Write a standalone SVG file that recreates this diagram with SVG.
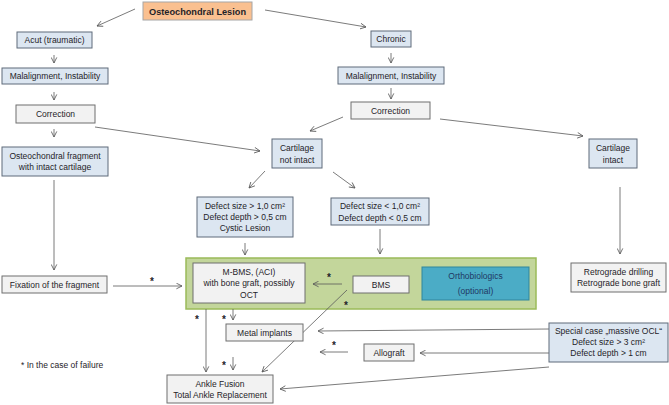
<svg xmlns="http://www.w3.org/2000/svg" width="669" height="405" viewBox="0 0 669 405">
<defs>
<marker id="ah" viewBox="0 0 10 10" refX="9" refY="5" markerWidth="7" markerHeight="7" orient="auto" markerUnits="userSpaceOnUse">
<path d="M1,1 L9,5 L1,9" fill="none" stroke="#595959" stroke-width="1.2"/>
</marker>
<style>
text{font-family:"Liberation Sans",Arial,sans-serif;font-size:8.5px;fill:#1F2328;text-anchor:middle}
.b{fill:#DCE6F1;stroke:#5F6B7A;stroke-width:1}
.g{fill:#F2F2F2;stroke:#6F6F6F;stroke-width:1}
.c line{stroke:#595959;stroke-width:0.8;fill:none}
.a{marker-end:url(#ah)}
.s{font-size:10px;font-weight:bold}
</style>
</defs>
<rect width="669" height="405" fill="#FFFFFF"/>
<g id="green-panel"><rect x="186" y="258" width="350" height="51" fill="#C3D69B" stroke="#9BBB59" stroke-width="1.5"/></g>
<g class="c" id="connectors">
<line class="a" x1="135" y1="9" x2="97" y2="26"/>
<line class="a" x1="265" y1="10" x2="366" y2="27"/>
<line class="a" x1="54" y1="55" x2="54" y2="63"/>
<line class="a" x1="54" y1="92" x2="54" y2="100"/>
<line class="a" x1="54" y1="129" x2="54" y2="137"/>
<line class="a" x1="54" y1="180" x2="54" y2="270"/>
<line class="a" x1="95" y1="127" x2="260" y2="151"/>
<line class="a" x1="391" y1="53" x2="391" y2="63"/>
<line class="a" x1="391" y1="88" x2="391" y2="99"/>
<line class="a" x1="343" y1="117" x2="310" y2="131"/>
<line class="a" x1="440" y1="119" x2="583" y2="136"/>
<line class="a" x1="265" y1="171" x2="249" y2="188"/>
<line class="a" x1="333" y1="172" x2="355" y2="188"/>
<line class="a" x1="245" y1="243" x2="245" y2="255"/>
<line class="a" x1="380" y1="229" x2="380" y2="254"/>
<line class="a" x1="620" y1="187" x2="620" y2="254"/>
<line class="a" x1="113" y1="286" x2="182" y2="286"/>
<line class="a" x1="342" y1="284" x2="313" y2="284"/>
<line class="a" x1="347" y1="290" x2="262" y2="372"/>
<line class="a" x1="206" y1="309" x2="206" y2="372"/>
<line class="a" x1="233" y1="309" x2="233" y2="320"/>
<line class="a" x1="233" y1="357" x2="233" y2="370"/>
<line class="a" x1="549" y1="329" x2="318" y2="331"/>
<line class="a" x1="549" y1="353" x2="420" y2="353"/>
<line class="a" x1="348" y1="352" x2="320" y2="352"/>
<line class="a" x1="549" y1="367" x2="280" y2="389"/>
</g>
<g id="stars">
<text class="s" x="152" y="285">*</text>
<text class="s" x="329" y="281">*</text>
<text class="s" x="346" y="309">*</text>
<text class="s" x="197" y="323">*</text>
<text class="s" x="224" y="323">*</text>
<text class="s" x="224" y="369">*</text>
<text class="s" x="334" y="349">*</text>
</g>
<g id="lesion"><rect x="143" y="2" width="109" height="18" fill="#FAC090" stroke="#A6A6A6" stroke-width="1"/><text x="197.5" y="14.5" style="font-weight:bold;font-size:9.2px">Osteochondral Lesion</text></g>
<g id="acut"><rect class="b" x="17" y="32" width="75" height="16"/><text x="54.5" y="43">Acut (traumatic)</text></g>
<g id="malalign1"><rect class="b" x="2" y="68" width="106" height="16"/><text x="55" y="79">Malalignment, Instability</text></g>
<g id="correction1"><rect class="g" x="16" y="105" width="79" height="18"/><text x="55.5" y="117">Correction</text></g>
<g id="fragment"><rect class="b" x="2" y="147" width="106" height="29"/><text x="55" y="158.5">Osteochondral fragment</text><text x="55" y="170">with intact cartilage</text></g>
<g id="fixation"><rect class="g" x="2" y="276" width="105" height="17"/><text x="54.5" y="287.5">Fixation of the fragment</text></g>
<g id="chronic"><rect class="b" x="371" y="31" width="40" height="16"/><text x="391" y="42">Chronic</text></g>
<g id="malalign2"><rect class="b" x="338" y="67" width="106" height="17"/><text x="391" y="78.5">Malalignment, Instability</text></g>
<g id="correction2"><rect class="g" x="351" y="102" width="79" height="17"/><text x="390.5" y="113.5">Correction</text></g>
<g id="cart-not-intact"><rect class="b" x="272" y="139" width="50" height="29"/><text x="297" y="151">Cartilage</text><text x="297" y="163">not intact</text></g>
<g id="cart-intact"><rect class="b" x="589" y="139" width="48" height="29"/><text x="613" y="151">Cartilage</text><text x="613" y="163">intact</text></g>
<g id="defect-large"><rect class="b" x="197" y="197" width="96" height="40"/><text x="245" y="209">Defect size &gt; 1,0 cm²</text><text x="245" y="220">Defect depth &gt; 0,5 cm</text><text x="245" y="231">Cystic Lesion</text></g>
<g id="defect-small"><rect class="b" x="331" y="198" width="98" height="27"/><text x="380" y="209">Defect size &lt; 1,0 cm²</text><text x="380" y="221">Defect depth &lt; 0,5 cm</text></g>
<g id="mbms"><rect class="g" x="193" y="263" width="112" height="40"/><text x="249" y="275">M-BMS, (ACI)</text><text x="249" y="286">with bone graft, possibly</text><text x="249" y="298">OCT</text></g>
<g id="bms"><rect class="g" x="353" y="276" width="56" height="17"/><text x="381" y="288">BMS</text></g>
<g id="orthobiologics"><rect x="422" y="267" width="107" height="33" fill="#4BACC6" stroke="#31859C" stroke-width="1"/><text x="475.5" y="279" style="fill:#1F3864">Orthobiologics</text><text x="475.5" y="294" style="fill:#1F3864">(optional)</text></g>
<g id="retrograde"><rect class="g" x="571" y="263" width="95" height="29"/><text x="618.5" y="275">Retrograde drilling</text><text x="618.5" y="286">Retrograde bone graft</text></g>
<g id="metal"><rect class="g" x="226" y="324" width="77" height="17"/><text x="264.5" y="336">Metal implants</text></g>
<g id="allograft"><rect class="g" x="364" y="344" width="50" height="17"/><text x="389" y="356">Allograft</text></g>
<g id="special"><rect class="b" x="549" y="323" width="119" height="39"/><text x="608.5" y="334">Special case „massive OCL“</text><text x="608.5" y="345">Defect size &gt; 3 cm²</text><text x="608.5" y="356">Defect depth &gt; 1 cm</text></g>
<g id="ankle"><rect class="g" x="167" y="375" width="106" height="28"/><text x="220" y="387">Ankle Fusion</text><text x="220" y="398">Total Ankle Replacement</text></g>
<g id="footnote"><text x="21" y="368" style="text-anchor:start">* In the case of failure</text></g>
</svg>
